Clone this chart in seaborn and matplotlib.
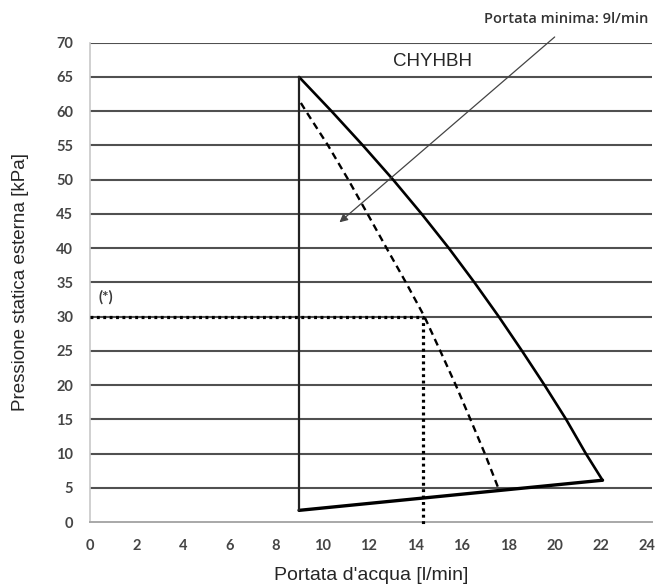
import matplotlib
matplotlib.use("Agg")
import matplotlib.pyplot as plt
import seaborn as sns
import pandas as pd

# ---- data ----
solid_x = [9.0, 10.4, 11.75, 13.05, 14.28, 15.45, 16.55, 17.6, 18.6, 19.57, 20.5, 21.35, 22.07]
solid_y = [65, 60, 55, 50, 45, 40, 35, 30, 25, 20, 15, 10, 6.1]
dashed_x = [9.08, 9.3, 10.25, 11.12, 11.95, 12.77, 13.6, 14.4, 15.08, 15.75, 16.38, 17.0, 17.6]
dashed_y = [61.2, 60, 55, 50, 45, 40, 35, 30, 25, 20, 15, 10, 4.8]
bottom_x = [9.0, 22.07]
bottom_y = [1.7, 6.1]
left_x = [9.0, 9.0]
left_y = [1.7, 65]
dotted_x = [0, 14.35, 14.35]
dotted_y = [30, 30, -0.5]
x_ticks = list(range(0, 25, 2))
y_ticks = list(range(0, 71, 5))
title_text = "CHYHBH"
note_text = "Portata minima: 9l/min"
star_text = "(*)"
xlabel = "Portata d'acqua [l/min]"
ylabel = "Pressione statica esterna [kPa]"

sns.set_style("white")
plt.rcParams['font.family'] = ['Liberation Sans', 'DejaVu Sans']

fig = plt.figure(figsize=(6.61, 5.88), dpi=100)
ax = fig.add_axes([90/661, 1-522/588, 562/661, (522-42.7)/588])

grid_c = "#505050"
for yv in y_ticks[1:]:
    ax.axhline(yv, color=grid_c, lw=1.5, zorder=1)

df_s = pd.DataFrame({"x": solid_x, "y": solid_y})
df_d = pd.DataFrame({"x": dashed_x, "y": dashed_y})
df_b = pd.DataFrame({"x": bottom_x, "y": bottom_y})
df_l = pd.DataFrame({"x": left_x, "y": left_y})
df_o = pd.DataFrame({"x": dotted_x, "y": dotted_y})

sns.lineplot(data=df_s, x="x", y="y", sort=False, estimator=None, color="black", lw=1.9, ax=ax, zorder=3)
sns.lineplot(data=df_b, x="x", y="y", sort=False, estimator=None, color="black", lw=2.4, ax=ax, zorder=3)
sns.lineplot(data=df_l, x="x", y="y", sort=False, estimator=None, color="#222222", lw=1.6, ax=ax, zorder=3)
sns.lineplot(data=df_d, x="x", y="y", sort=False, estimator=None, color="black", lw=1.7, ax=ax, zorder=3)
ax.lines[-1].set_dashes([3, 2])
sns.lineplot(data=df_o, x="x", y="y", sort=False, estimator=None, color="black", lw=2.3, ax=ax, zorder=4)
ax.lines[-1].set_dashes([0.9, 1.1])
ax.lines[-1].set_clip_on(False)

ax.set_xlim(0, 24.2)
ax.set_ylim(0, 70)
ax.set_xticks(x_ticks)
ax.set_yticks(y_ticks)

tick_font = dict(family=['Lato', 'DejaVu Sans'], weight='bold', size=10.5)
ax.set_xticklabels([str(v) for v in x_ticks], fontdict=tick_font, color="#454545")
ax.set_yticklabels([str(v) for v in y_ticks], fontdict=tick_font, color="#454545")
ax.tick_params(axis='both', direction='out', length=4, width=1.2, color="#9a9a9a", pad=8)

for s in ["top", "right"]:
    ax.spines[s].set_visible(False)
ax.spines["left"].set_color("#c8c8c8")
ax.spines["bottom"].set_color("#a8a8a8")
ax.spines["left"].set_linewidth(1.2)
ax.spines["bottom"].set_linewidth(1.4)

ax.set_xlabel(xlabel, fontsize=14, labelpad=10)
ax.set_ylabel(ylabel, fontsize=13.5, labelpad=20)

ax.text(14.75, 67.2, title_text, fontsize=13.5, ha="center", va="center", family="Liberation Sans")
ax.text(20.5, 73.4, note_text, fontsize=10.5, ha="center", va="center", color="#333333",
        family=['Open Sans', 'DejaVu Sans'], weight='semibold')
ax.text(0.35, 32.8, star_text, fontsize=11, ha="left", va="center", color="#3a3a3a",
        family=['Lato', 'DejaVu Sans'], weight='bold')
ax.annotate("", xy=(10.65, 43.5), xytext=(20.1, 71.1),
            arrowprops=dict(arrowstyle="-|>", color="#444444", lw=0.9, mutation_scale=12),
            annotation_clip=False)

fig.savefig("out.png", dpi=100)
